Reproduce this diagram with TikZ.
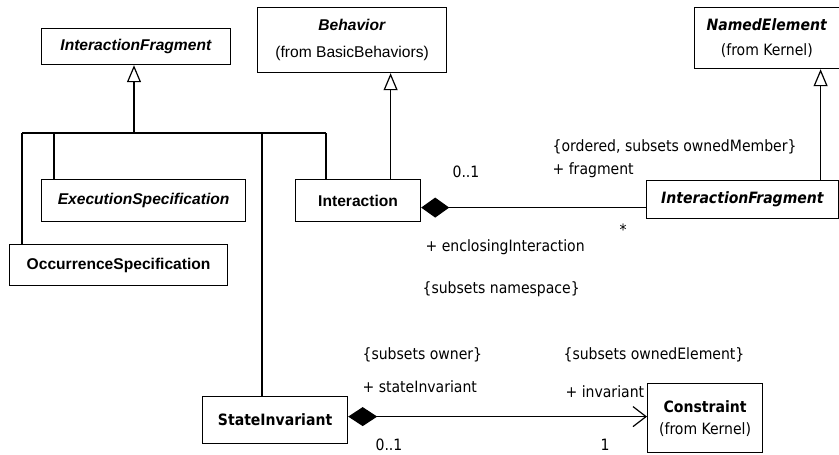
\documentclass[tikz,border=0pt]{standalone}
\usepackage{fontspec}
\setmainfont{Liberation Sans}
\newfontfamily\tahfont{DejaVu Sans Condensed}
\usetikzlibrary{arrows.meta}
\begin{document}
\begin{tikzpicture}[x=1pt,y=-1pt,line width=1.2pt,
  box/.style={draw, line width=1.2pt, inner sep=0pt, anchor=north west, align=center, fill=white},
  ar/.style={font=\fontsize{15.6}{27}\selectfont},
  th/.style={font=\tahfont\fontsize{15.6}{24}\selectfont},
  lbl/.style={th, inner sep=0pt, anchor=west},
  gen/.style={-{Triangle[open,length=17pt,width=14pt,line width=1.2pt]}},
  comp/.style={{Diamond[length=28pt,width=20pt]}-},
  compnav/.style={{Diamond[length=29pt,width=19pt]}-{Straight Barb[length=13pt,width=20pt,line width=1.2pt]}}]
\useasboundingbox (0,0) rectangle (839,455);

% boxes
\node[box, ar, minimum width=189pt, minimum height=36pt] (IF1) at (41,28) {\textbf{\textit{InteractionFragment}}};
\node[box, ar, minimum width=189pt, minimum height=65pt] (Beh) at (257,7) {\textbf{\textit{Behavior}}\\(from BasicBehaviors)};
\node[box, th, font=\tahfont\fontsize{15.6}{25}\selectfont, minimum width=144.5pt, minimum height=61pt] (NE) at (694,7) {\textbf{\textit{NamedElement}}\\(from Kernel)};
\node[box, ar, minimum width=204pt, minimum height=42pt] (ES) at (41,179) {\textbf{\textit{ExecutionSpecification}}};
\node[box, ar, minimum width=218pt, minimum height=41pt] (OS) at (9,244) {\textbf{OccurrenceSpecification}};
\node[box, ar, minimum width=125pt, minimum height=42pt] (Int) at (295,179) {\textbf{Interaction}};
\node[box, th, minimum width=192pt, minimum height=38pt] (IF2) at (646,180) {\textbf{\textit{InteractionFragment}}};
\node[box, th, minimum width=145pt, minimum height=47pt] (SI) at (202,396) {\textbf{StateInvariant}};
\node[box, th, font=\tahfont\fontsize{15.6}{22}\selectfont, minimum width=115pt, minimum height=69pt] (Con) at (647,383) {\textbf{Constraint}\\(from Kernel)};

% generalization tree
\coordinate (b1) at (22,133);
\coordinate (b2) at (54,133);
\coordinate (bt) at (134,133);
\coordinate (b3) at (262,133);
\coordinate (b4) at (326,133);
\draw (b1) -- (b4);
\draw[gen] (bt) -- (bt |- IF1.south);
\draw (b1) -- (b1 |- OS.north);
\draw (b2) -- (b2 |- ES.north);
\draw (b3) -- (b3 |- SI.north);
\draw (b4) -- (b4 |- Int.north);

% Interaction -> Behavior
\path (Int.north) ++(32.5,0) coordinate (ib);
\draw[gen] (ib) -- (ib |- Beh.south);
% InteractionFragment -> NamedElement
\path (IF2.north) ++(78,0) coordinate (nb);
\draw[gen] (nb) -- (nb |- NE.south);

% compositions
\draw[comp] ([yshift=-7pt]Int.east) -- ([yshift=-7pt]Int.east -| IF2.west);
\draw[compnav] ([yshift=3.5pt]SI.east) -- ([yshift=3.5pt]SI.east -| Con.west);

% labels
\node[lbl] (l1) at (452,172) {0..1};
\node[lbl] (l2) at (552,147) {\{ordered, subsets ownedMember\}};
\node[lbl] (l3) at (552,170) {+ fragment};
\node[lbl] (l4) at (619,230) {*};
\node[lbl] (l5) at (425,247) {+ enclosingInteraction};
\node[lbl] (l6) at (422,289) {\{subsets namespace\}};
\node[lbl] (l7) at (362,355) {\{subsets owner\}};
\node[lbl] (l8) at (362,387) {+ stateInvariant};
\node[lbl] (l9) at (563,355) {\{subsets ownedElement\}};
\node[lbl] (l10) at (565,392) {+ invariant};
\node[lbl] (l11) at (375,445) {0..1};
\node[lbl] (l12) at (600,445) {1};
\end{tikzpicture}
\end{document}
